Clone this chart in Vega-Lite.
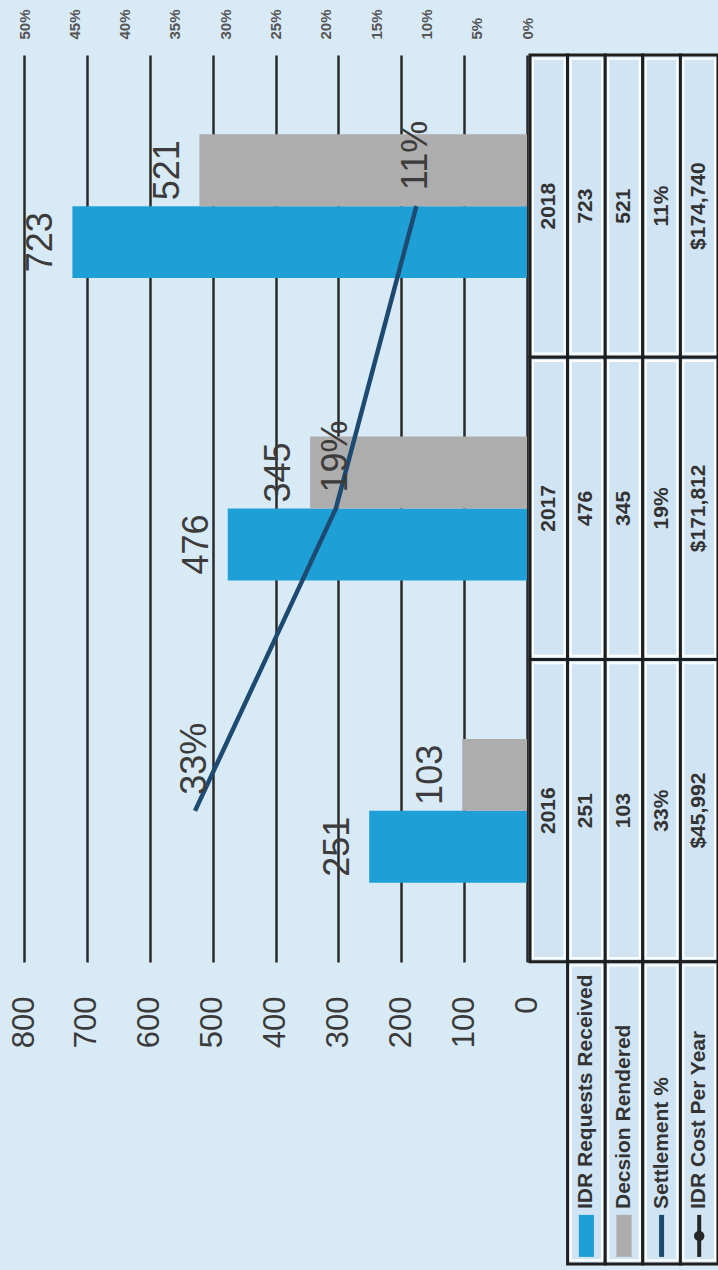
{
  "$schema": "https://vega.github.io/schema/vega-lite/v6.json",
  "background": "#D9EAF7",
  "padding": {"left": 8, "top": 8, "right": 0, "bottom": 8},
  "config": {"view": {"stroke": null}, "font": "Liberation Sans"},
  "bounds": "flush",
  "spacing": 3,
  "datasets": {
    "counts": [
      {"year": "2016", "series": "IDR Requests Received", "value": 251},
      {"year": "2016", "series": "Decsion Rendered", "value": 103},
      {"year": "2017", "series": "IDR Requests Received", "value": 476},
      {"year": "2017", "series": "Decsion Rendered", "value": 345},
      {"year": "2018", "series": "IDR Requests Received", "value": 723},
      {"year": "2018", "series": "Decsion Rendered", "value": 521}
    ],
    "settle": [
      {"year": "2016", "pct": 0.33},
      {"year": "2017", "pct": 0.19},
      {"year": "2018", "pct": 0.11}
    ],
    "table": [
      {"col": "2018", "row": "year", "text": "2018"},
      {"col": "2018", "row": "idr", "text": "723"},
      {"col": "2018", "row": "dec", "text": "521"},
      {"col": "2018", "row": "set", "text": "11%"},
      {"col": "2018", "row": "cost", "text": "$174,740"},
      {"col": "2017", "row": "year", "text": "2017"},
      {"col": "2017", "row": "idr", "text": "476"},
      {"col": "2017", "row": "dec", "text": "345"},
      {"col": "2017", "row": "set", "text": "19%"},
      {"col": "2017", "row": "cost", "text": "$171,812"},
      {"col": "2016", "row": "year", "text": "2016"},
      {"col": "2016", "row": "idr", "text": "251"},
      {"col": "2016", "row": "dec", "text": "103"},
      {"col": "2016", "row": "set", "text": "33%"},
      {"col": "2016", "row": "cost", "text": "$45,992"},
      {"col": "legend", "row": "idr", "text": "IDR Requests Received"},
      {"col": "legend", "row": "dec", "text": "Decsion Rendered"},
      {"col": "legend", "row": "set", "text": "Settlement %"},
      {"col": "legend", "row": "cost", "text": "IDR Cost Per Year"}
    ]
  },
  "hconcat": [
    {
      "width": 503,
      "height": 907,
      "layer": [
        {
          "data": {"name": "counts"},
          "encoding": {
            "y": {"field": "year", "type": "nominal", "scale": {"domain": ["2018", "2017", "2016"], "paddingInner": 0.524, "paddingOuter": 0.262}, "axis": null},
            "x": {"field": "value", "type": "quantitative", "scale": {"domain": [0, 800], "reverse": true, "nice": false, "zero": true},
              "axis": {"orient": "bottom", "values": [0, 100, 200, 300, 400, 500, 600, 700, 800], "labelAngle": 270, "labelAlign": "right", "labelBaseline": "middle", "labelFontSize": 31, "labelColor": "#3A3A3A", "labelPadding": 34, "labelFlush": false, "labelOverlap": false, "labelBound": false, "ticks": false, "domain": false, "grid": true, "gridColor": "#2A2A2A", "gridWidth": 2.5, "gridOpacity": 1, "title": null}},
            "yOffset": {"field": "series", "type": "nominal", "scale": {"domain": ["Decsion Rendered", "IDR Requests Received"], "paddingInner": 0, "paddingOuter": 0}}
          },
          "layer": [
            {
              "mark": {"type": "bar"},
              "encoding": {
                "color": {"field": "series", "type": "nominal", "scale": {"domain": ["Decsion Rendered", "IDR Requests Received"], "range": ["#ADADAD", "#1EA0D7"]}, "legend": null}
              }
            },
            {
              "mark": {"type": "text", "angle": 270, "align": "center", "baseline": "alphabetic", "dy": -20, "fontSize": 36, "color": "#3C3C3C"},
              "encoding": {"text": {"field": "value", "type": "quantitative"}}
            }
          ]
        },
        {
          "data": {"name": "settle"},
          "encoding": {
            "y": {"field": "year", "type": "nominal", "scale": {"domain": ["2018", "2017", "2016"], "paddingInner": 0.524, "paddingOuter": 0.262}, "axis": null},
            "x": {"field": "pct", "type": "quantitative", "scale": {"domain": [0, 0.5], "reverse": true, "nice": false},
              "axis": {"orient": "top", "values": [0, 0.05, 0.1, 0.15, 0.2, 0.25, 0.3, 0.35, 0.4, 0.45, 0.5], "format": ".0%", "labelAngle": 270, "labelAlign": "left", "labelBaseline": "middle", "labelFontSize": 15, "labelFontWeight": "bold", "labelColor": "#555555", "labelPadding": 16, "labelFlush": false, "labelOverlap": false, "labelBound": false, "ticks": false, "domain": false, "grid": false, "title": null}}
          },
          "layer": [
            {
              "mark": {"type": "line", "color": "#1D4A70", "strokeWidth": 4.5},
              "encoding": {"order": {"field": "year", "type": "ordinal"}}
            },
            {
              "mark": {"type": "text", "angle": 270, "align": "left", "baseline": "middle", "dx": 16, "fontSize": 36, "color": "#3C3C3C"},
              "encoding": {"text": {"field": "pct", "type": "quantitative", "format": ".0%"}}
            }
          ]
        }
      ],
      "resolve": {"scale": {"x": "independent"}, "axis": {"x": "independent"}}
    },
    {
      "width": 188,
      "height": 1209,
      "encoding": {
        "x": {"field": "row", "type": "nominal", "scale": {"domain": ["year", "idr", "dec", "set", "cost"], "paddingInner": 0, "paddingOuter": 0}, "axis": null},
        "y": {"field": "col", "type": "nominal", "scale": {"domain": ["2018", "2017", "2016", "legend"], "paddingInner": 0, "paddingOuter": 0}, "axis": null}
      },
      "layer": [
        {
          "data": {"name": "table"},
          "mark": {"type": "rect", "fill": "#D0E4F4", "stroke": "#1E1E1E", "strokeWidth": 3}
        },
        {
          "data": {"name": "table"},
          "mark": {"type": "rect", "filled": false, "fill": null, "stroke": "#FFFFFF", "strokeWidth": 2, "width": {"band": 0.84}, "height": {"band": 0.975}}
        },
        {
          "data": {"name": "table"},
          "transform": [{"filter": "datum.col !== 'legend'"}],
          "mark": {"type": "text", "angle": 270, "align": "center", "baseline": "middle", "fontSize": 21, "fontWeight": "bold", "color": "#333333"},
          "encoding": {"text": {"field": "text", "type": "nominal"}}
        },
        {
          "data": {"name": "table"},
          "transform": [{"filter": "datum.col === 'legend'"}],
          "mark": {"type": "text", "angle": 270, "align": "left", "baseline": "middle", "dx": 55, "fontSize": 21, "fontWeight": "bold", "color": "#333333"},
          "encoding": {
            "y": {"field": "col", "type": "nominal", "bandPosition": 1, "scale": {"domain": ["2018", "2017", "2016", "legend"], "paddingInner": 0, "paddingOuter": 0}, "axis": null},
            "text": {"field": "text", "type": "nominal"}
          }
        },
        {
          "data": {"values": [{"col": "legend", "row": "idr"}]},
          "mark": {"type": "point", "filled": true, "opacity": 1, "color": "#1EA0D7", "size": 7056, "shape": "M-0.18,-0.5H0.18V0.5H-0.18Z"},
          "encoding": {"y": {"field": "col", "type": "nominal", "bandPosition": 0.907, "scale": {"domain": ["2018", "2017", "2016", "legend"], "paddingInner": 0, "paddingOuter": 0}, "axis": null}}
        },
        {
          "data": {"values": [{"col": "legend", "row": "dec"}]},
          "mark": {"type": "point", "filled": true, "opacity": 1, "color": "#ADADAD", "size": 7056, "shape": "M-0.18,-0.5H0.18V0.5H-0.18Z"},
          "encoding": {"y": {"field": "col", "type": "nominal", "bandPosition": 0.907, "scale": {"domain": ["2018", "2017", "2016", "legend"], "paddingInner": 0, "paddingOuter": 0}, "axis": null}}
        },
        {
          "data": {"values": [{"col": "legend", "row": "set"}]},
          "mark": {"type": "point", "filled": false, "opacity": 1, "color": "#1D4A70", "strokeWidth": 5, "size": 7056, "shape": "M0,-0.5V0.5"},
          "encoding": {"y": {"field": "col", "type": "nominal", "bandPosition": 0.907, "scale": {"domain": ["2018", "2017", "2016", "legend"], "paddingInner": 0, "paddingOuter": 0}, "axis": null}}
        },
        {
          "data": {"values": [{"col": "legend", "row": "cost"}]},
          "mark": {"type": "point", "filled": false, "opacity": 1, "color": "#262626", "strokeWidth": 4, "size": 7056, "shape": "M0,-0.5V0.5"},
          "encoding": {"y": {"field": "col", "type": "nominal", "bandPosition": 0.907, "scale": {"domain": ["2018", "2017", "2016", "legend"], "paddingInner": 0, "paddingOuter": 0}, "axis": null}}
        },
        {
          "data": {"values": [{"col": "legend", "row": "cost"}]},
          "mark": {"type": "point", "filled": true, "opacity": 1, "color": "#262626", "size": 110, "shape": "circle"},
          "encoding": {"y": {"field": "col", "type": "nominal", "bandPosition": 0.907, "scale": {"domain": ["2018", "2017", "2016", "legend"], "paddingInner": 0, "paddingOuter": 0}, "axis": null}}
        }
      ]
    }
  ]
}
